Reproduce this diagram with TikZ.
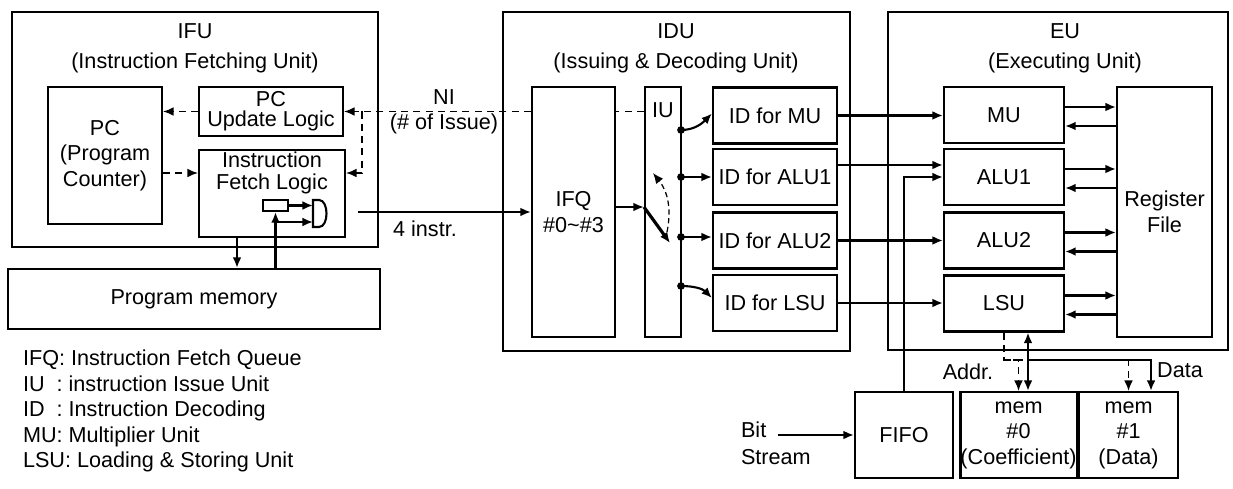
\documentclass[tikz,border=0pt]{standalone}
\usepackage{fontspec}
\setmainfont{Liberation Sans}
\usetikzlibrary{arrows.meta}

\begin{document}
\begin{tikzpicture}[x=0.02cm,y=-0.02cm,line width=1.2pt,
    >={Latex[length=6pt,width=5pt]},
    font=\fontsize{12.3}{14.5}\selectfont,
    blk/.style 2 args={draw,align=center,inner sep=0pt,minimum width=#1cm,minimum height=#2cm},
    ttl/.style={align=center,font=\fontsize{12.3}{17}\selectfont},
    dsh/.style={line width=0.9pt,dash pattern=on 4pt off 3pt}]
  \useasboundingbox (0,0) rectangle (1233,489);

  \node[blk={7.32}{4.70}] (ifu) at (195,129.5) {};
  \node[ttl] (ifutxt) at (195,48) {IFU\\(Instruction Fetching Unit)};
  \node[blk={2.28}{2.74}] (pc) at (105,155.5) {PC\\(Program\\Counter)};
  \node[blk={2.88}{0.98},font=\fontsize{12.3}{11.5}\selectfont] (pcu) at (271,111.5) {PC\\Update Logic};
  \node[blk={2.92}{1.74}] (ifl) at (272,193.5) {};
  \node[align=center,font=\fontsize{12.3}{12.5}\selectfont] (ifltxt) at (272,173) {Instruction\\Fetch Logic};
  \node[blk={0.5}{0.22}] (ireg) at (275.5,205.5) {};
  \draw (313,200) -- (319,200) .. controls (329,200) and (329,227) .. (319,227) -- (313,227) -- cycle;
  \coordinate (gin1) at (313,206);
  \coordinate (gin2) at (313,222);
  \node[blk={7.44}{1.2}] (pmem) at (194,299) {Program memory};
  \node[anchor=north west,align=left,inner sep=0pt] (legend) at (22,349) {IFQ: Instruction Fetch Queue\\IU\ \ : instruction Issue Unit\\ID\ \ : Instruction Decoding\\MU: Multiplier Unit\\LSU: Loading \& Storing Unit};

  \node[blk={6.94}{6.78}] (idu) at (676.5,181.5) {};
  \node[ttl] (idutxt) at (676,48) {IDU\\(Issuing \& Decoding Unit)};
  \node[blk={1.66}{5.0}] (ifq) at (573.5,212) {IFQ\\\#0\textasciitilde\#3};
  \node[blk={0.72}{5.0}] (iu) at (663,212) {};
  \node (iutxt) at (663,110) {IU};
  \node[blk={2.48}{1.12}] (idmu) at (775,115.5) {ID for MU};
  \node[blk={2.48}{1.12}] (idalu1) at (775,177) {ID for ALU1};
  \node[blk={2.48}{1.12}] (idalu2) at (775,240.5) {ID for ALU2};
  \node[blk={2.48}{1.12}] (idlsu) at (775,303) {ID for LSU};
  \coordinate (p1) at (681,130);
  \coordinate (p2) at (681,177);
  \coordinate (p3) at (681,237);
  \coordinate (p4) at (681,286);
  \coordinate (swtip) at (670,243);
  \coordinate (swtop) at (653,173);

  \node[blk={6.8}{6.76}] (eu) at (1058,181) {};
  \node[ttl] (eutxt) at (1065,48) {EU\\(Executing Unit)};
  \node[blk={2.4}{1.12}] (mu) at (1004,115) {MU};
  \node[blk={2.4}{1.12}] (alu1) at (1004,177) {ALU1};
  \node[blk={2.4}{1.12}] (alu2) at (1004,240.5) {ALU2};
  \node[blk={2.4}{1.12}] (lsu) at (1004,303.5) {LSU};
  \node[blk={1.9}{5.0}] (rf) at (1164.5,212) {Register\\File};

  \node[blk={1.96}{1.72}] (fifo) at (904,435) {FIFO};
  \node[blk={2.14}{1.72}] (mem0) at (1018.5,435) {mem\\\#0\\(Coefficient)};
  \node[blk={1.98}{1.72}] (mem1) at (1128.5,435) {mem\\\#1\\(Data)};
  \node[anchor=west,align=left,inner sep=0pt,font=\fontsize{12.3}{15.5}\selectfont] (bits) at (740,443) {Bit\\Stream};
  \coordinate (bsin) at (778,435);

  \node[align=center] (ni) at (444,112) {NI\\(\# of Issue)};
  \node (instr) at (425,229) {4 instr.};
  \node (addr) at (968,372) {Addr.};
  \node (data) at (1180,370) {Data};

  \draw[dsh,->] (pcu.west) -- (pcu.west -| pc.east);
  \draw[dsh,->] (pc.east |- ifltxt) -- (ifl.west |- ifltxt);
  \draw[dsh] (iu.west |- pcu) -- (ifq.east |- pcu);
  \draw[dsh,->] (ifq.west |- pcu) -- (pcu.east);
  \coordinate (nisplit) at (362,111.5);
  \draw[dsh,->] (nisplit) |- (ifl.east |- ifltxt);
  \coordinate (fetchout) at (358,212);
  \draw[->] (fetchout) -- (fetchout -| ifq.west);
  \coordinate (pmrd) at ([xshift=-0.7cm]ifl.south);
  \draw[->] (pmrd) -- (pmrd |- pmem.north);
  \draw[->] (ireg.south |- pmem.north) -- (ireg.south);
  \draw[->] (ireg.south |- gin2) -- (gin2);
  \draw[->] (ireg.east) -- (ireg.east -| gin1);

  \draw[->] ([yshift=0.1cm]ifq.east) -- ([yshift=0.1cm]iu.west);
  \draw[line width=1.8pt,->] ([yshift=0.1cm]iu.west) -- (swtip);
  \draw[line width=0.7pt,densely dashed,->] ([shift={(-0.06cm,0.22cm)}]swtip) to[bend right=25] (swtop);
  \fill (p1) circle (2.2pt);
  \fill (p2) circle (2.2pt);
  \fill (p3) circle (2.2pt);
  \fill (p4) circle (2.2pt);
  \draw[->] (p1) to[out=0,in=225] ([yshift=0.04cm]idmu.west);
  \draw[->] (p2) -- (idalu1.west);
  \draw[->] (p3) -- (p3 -| idalu2.west);
  \draw[->] (p4) to[out=0,in=135] ([yshift=0.1cm]idlsu.west);

  \draw[->] (idmu.east) -- (idmu.east -| mu.west);
  \draw[->] ([yshift=0.24cm]idalu1.east) -- ([yshift=0.24cm]alu1.west);
  \draw[->] (idalu2.east) -- (alu2.west);
  \draw[->] (idlsu.east) -- (idlsu.east -| lsu.west);
  \draw[->] (fifo.north) |- (alu1.west);
  \draw[->] (bsin) -- (fifo.west);

  \draw[->] ([yshift=0.16cm]mu.east) -- ([yshift=0.16cm]mu.east -| rf.west);
  \draw[<-] ([yshift=-0.22cm]mu.east) -- ([yshift=-0.22cm]mu.east -| rf.west);
  \draw[->] ([yshift=0.16cm]alu1.east) -- ([yshift=0.16cm]alu1.east -| rf.west);
  \draw[<-] ([yshift=-0.22cm]alu1.east) -- ([yshift=-0.22cm]alu1.east -| rf.west);
  \draw[->] ([yshift=0.16cm]alu2.east) -- ([yshift=0.16cm]alu2.east -| rf.west);
  \draw[<-] ([yshift=-0.22cm]alu2.east) -- ([yshift=-0.22cm]alu2.east -| rf.west);
  \draw[->] ([yshift=0.16cm]lsu.east) -- ([yshift=0.16cm]lsu.east -| rf.west);
  \draw[<-] ([yshift=-0.22cm]lsu.east) -- ([yshift=-0.22cm]lsu.east -| rf.west);

  \draw[<->] ([xshift=0.48cm]lsu.south) -- ([xshift=0.48cm]lsu.south |- mem0.north);
  \coordinate (dsplit) at (1028,360);
  \draw[->] (dsplit) -| ([xshift=0.45cm]mem1.north);
  \coordinate (asplit) at (1004,360);
  \draw[dsh,->] (lsu.south) -- (asplit) -| (mem0.north);
  \draw[dsh,->] (asplit) -| (mem1.north);
\end{tikzpicture}
\end{document}
